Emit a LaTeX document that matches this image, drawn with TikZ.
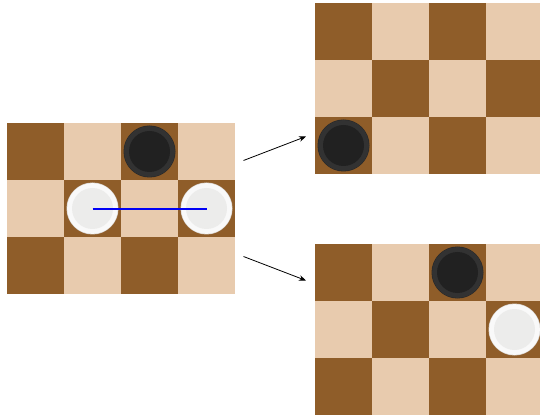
\documentclass[tikz,border=0pt]{standalone}
\usepackage{tikz}
\usepackage{xcolor}
\usetikzlibrary{arrows.meta,calc}
\definecolor{sqdark}{RGB}{143,93,41}
\definecolor{sqlight}{RGB}{232,203,174}
\definecolor{pcblackrim}{RGB}{50,50,50}
\definecolor{pcblack}{RGB}{33,33,33}
\definecolor{pcblackedge}{RGB}{40,40,40}
\definecolor{pcwhiterim}{RGB}{249,249,249}
\definecolor{pcwhite}{RGB}{236,236,235}
\definecolor{pcwhiteedge}{RGB}{215,210,205}
\definecolor{jumpblue}{RGB}{0,0,245}

% board of 4x3 squares, #1 = top left corner
\newcommand{\drawboard}[1]{%
  \fill[sqlight] (#1) rectangle ++(228,171);
  \foreach \c/\r in {0/0,2/0,1/1,3/1,0/2,2/2}
    \fill[sqdark] ($(#1)+(\c*57,\r*57)$) rectangle ++(57,57);
}
% checker, #1 = colour (black/white), #2 = centre
\newcommand{\checker}[2]{%
  \fill[pc#1edge] (#2) circle (26);
  \fill[pc#1rim] (#2) circle (25.4);
  \fill[pc#1] (#2) circle (20.5);
}

\begin{document}
\begin{tikzpicture}[x=1pt,y=-1pt,>=Stealth]
  \useasboundingbox (0,0) rectangle (540,419);
  \clip (0,0) rectangle (540,419);
  \coordinate (L)  at (7,123);
  \coordinate (TR) at (315,3);
  \coordinate (BR) at (315,244);
  \coordinate (W1) at (92.5,209.5);
  \coordinate (W2) at (206.5,209.5);
  \coordinate (A1) at (243.5,160.5);
  \coordinate (B1) at (306,136.5);
  \coordinate (A2) at (243.5,256.5);
  \coordinate (B2) at (306,280.5);
  % left board: before the jump
  \drawboard{L}
  \checker{black}{$(L)+(142.5,28.5)$}
  \checker{white}{$(L)+(85.5,85.5)$}
  \checker{white}{$(L)+(199.5,85.5)$}
  \draw[color=jumpblue,line width=2pt] (W1)--(W2);
  % top right board
  \drawboard{TR}
  \checker{black}{$(TR)+(28.5,142.5)$}
  % bottom right board
  \drawboard{BR}
  \checker{black}{$(BR)+(142.5,28.5)$}
  \checker{white}{$(BR)+(199.5,85.5)$}
  \draw[line width=0.8pt,-{Stealth[length=7pt,width=5.5pt]}] (A1)--(B1);
  \draw[line width=0.8pt,-{Stealth[length=7pt,width=5.5pt]}] (A2)--(B2);
\end{tikzpicture}
\end{document}
